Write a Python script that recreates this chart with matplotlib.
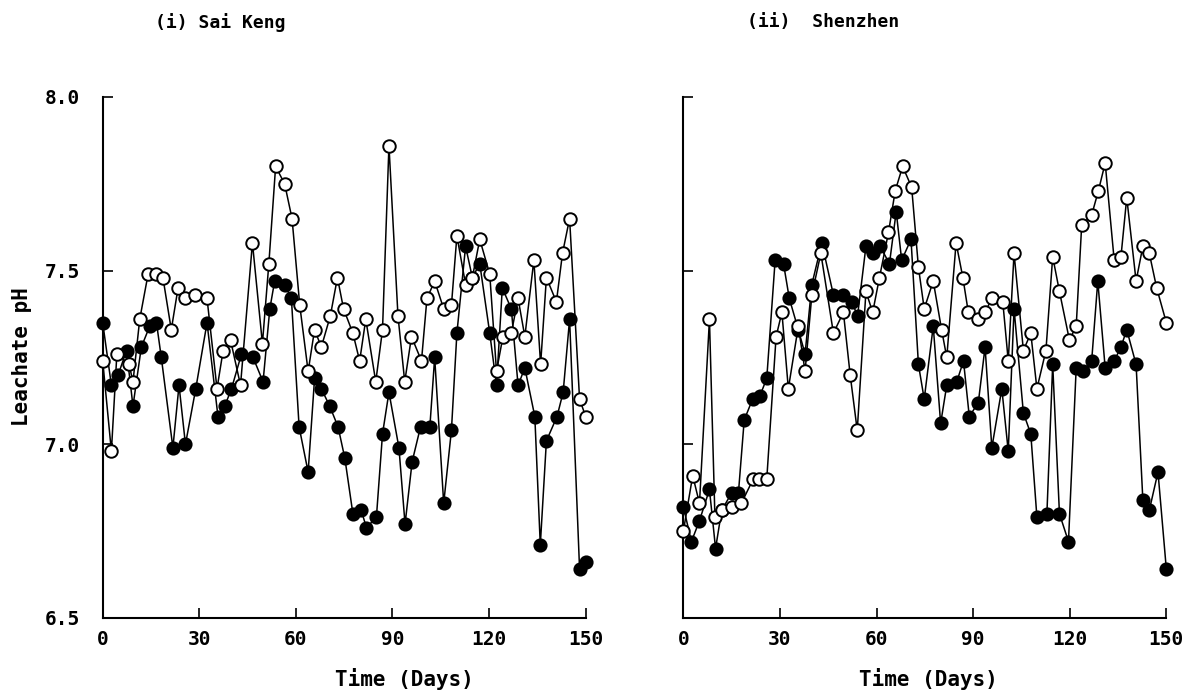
import matplotlib
matplotlib.use('Agg')
import matplotlib.pyplot as plt

# (i) Sai Keng
sk_days_filled = [0, 2.7, 4.8, 7.4, 9.4, 12.0, 14.6, 16.7, 18.2, 21.8, 23.7, 25.7, 28.9, 32.4, 35.8,
                  37.9, 40.0, 43.1, 46.7, 49.8, 51.9, 53.4, 56.5, 58.6, 61.0, 63.8, 65.8, 67.9, 70.5, 73.1,
                  75.2, 77.7, 80.3, 81.9, 85.0, 86.9, 88.9, 92.0, 93.9, 96.1, 98.7, 101.6, 103.1, 105.9, 108.3,
                  110.0, 112.7, 114.8, 117.1, 120.2, 122.3, 124.1, 126.9, 129.0, 131.1, 134.2, 135.9, 137.8,
                  141.1, 143.0, 145.0, 148.1, 150.0]
sk_ph_filled = [7.35, 7.17, 7.20, 7.27, 7.11, 7.28, 7.34, 7.35, 7.25, 6.99, 7.17, 7.00, 7.16, 7.35, 7.08,
                7.11, 7.16, 7.26, 7.25, 7.18, 7.39, 7.47, 7.46, 7.42, 7.05, 6.92, 7.19, 7.16, 7.11, 7.05,
                6.96, 6.80, 6.81, 6.76, 6.79, 7.03, 7.15, 6.99, 6.77, 6.95, 7.05, 7.05, 7.25, 6.83, 7.04,
                7.32, 7.57, 7.48, 7.52, 7.32, 7.17, 7.45, 7.39, 7.17, 7.22, 7.08, 6.71, 7.01,
                7.08, 7.15, 7.36, 6.64, 6.66]
sk_days_open = [0, 2.7, 4.4, 8.2, 9.4, 11.5, 14.1, 16.5, 18.7, 21.3, 23.4, 25.5, 28.6, 32.4, 35.5,
                37.4, 39.7, 42.8, 46.5, 49.6, 51.6, 53.7, 56.5, 58.8, 61.2, 63.8, 65.8, 67.9, 70.7, 72.9,
                74.8, 77.7, 79.8, 81.7, 84.8, 86.9, 88.9, 91.7, 93.8, 95.9, 99.0, 100.7, 103.1, 105.9, 108.3,
                110.0, 112.7, 114.8, 117.1, 120.2, 122.3, 124.3, 126.9, 129.0, 131.1, 133.9, 136.0, 137.8,
                140.9, 142.8, 145.0, 148.1, 150.0]
sk_ph_open = [7.24, 6.98, 7.26, 7.23, 7.18, 7.36, 7.49, 7.49, 7.48, 7.33, 7.45, 7.42, 7.43, 7.42, 7.16,
              7.27, 7.30, 7.17, 7.58, 7.29, 7.52, 7.80, 7.75, 7.65, 7.40, 7.21, 7.33, 7.28, 7.37, 7.48,
              7.39, 7.32, 7.24, 7.36, 7.18, 7.33, 7.86, 7.37, 7.18, 7.31, 7.24, 7.42, 7.47, 7.39, 7.40,
              7.60, 7.46, 7.48, 7.59, 7.49, 7.21, 7.31, 7.32, 7.42, 7.31, 7.53, 7.23, 7.48,
              7.41, 7.55, 7.65, 7.13, 7.08]

# (ii) Shenzhen
sz_days_filled = [0, 2.5, 5.0, 8.1, 10.0, 11.9, 15.0, 17.1, 18.9, 21.5, 23.8, 25.9, 28.5, 31.1, 32.9,
                  35.7, 37.8, 39.9, 43.0, 46.6, 49.7, 52.3, 54.1, 56.7, 58.8, 61.1, 64.0, 66.1, 67.8, 70.7,
                  73.0, 74.8, 77.6, 79.9, 81.8, 84.9, 87.0, 88.8, 91.6, 93.7, 95.8, 98.9, 100.9, 102.7, 105.6,
                  107.9, 109.8, 112.9, 114.7, 116.8, 119.6, 122.0, 124.2, 126.8, 128.7, 131.0, 133.8, 135.9,
                  137.7, 140.6, 142.7, 144.7, 147.4, 150.0]
sz_ph_filled = [6.82, 6.72, 6.78, 6.87, 6.70, 6.81, 6.86, 6.86, 7.07, 7.13, 7.14, 7.19, 7.53, 7.52, 7.42,
                7.33, 7.26, 7.46, 7.58, 7.43, 7.43, 7.41, 7.37, 7.57, 7.55, 7.57, 7.52, 7.67, 7.53, 7.59,
                7.23, 7.13, 7.34, 7.06, 7.17, 7.18, 7.24, 7.08, 7.12, 7.28, 6.99, 7.16, 6.98, 7.39, 7.09,
                7.03, 6.79, 6.80, 7.23, 6.80, 6.72, 7.22, 7.21, 7.24, 7.47, 7.22, 7.24, 7.28,
                7.33, 7.23, 6.84, 6.81, 6.92, 6.64]
sz_days_open = [0, 2.9, 5.0, 8.1, 9.8, 12.0, 15.0, 18.0, 21.7, 23.6, 25.9, 28.8, 30.6, 32.6, 35.7,
                37.8, 39.9, 42.7, 46.6, 49.7, 51.8, 54.0, 56.7, 58.8, 60.9, 63.7, 65.8, 68.1, 70.9, 73.0,
                74.8, 77.6, 80.2, 81.8, 84.7, 86.8, 88.5, 91.6, 93.7, 95.8, 99.2, 100.9, 102.7, 105.6, 107.9,
                109.8, 112.6, 114.7, 116.8, 119.9, 122.0, 123.7, 126.8, 128.9, 131.0, 133.8, 135.9, 137.7,
                140.6, 142.7, 144.7, 147.0, 150.0]
sz_ph_open = [6.75, 6.91, 6.83, 7.36, 6.79, 6.81, 6.82, 6.83, 6.90, 6.90, 6.90, 7.31, 7.38, 7.16, 7.34,
              7.21, 7.43, 7.55, 7.32, 7.38, 7.20, 7.04, 7.44, 7.38, 7.48, 7.61, 7.73, 7.80, 7.74, 7.51,
              7.39, 7.47, 7.33, 7.25, 7.58, 7.48, 7.38, 7.36, 7.38, 7.42, 7.41, 7.24, 7.55, 7.27, 7.32,
              7.16, 7.27, 7.54, 7.44, 7.30, 7.34, 7.63, 7.66, 7.73, 7.81, 7.53, 7.54, 7.71,
              7.47, 7.57, 7.55, 7.45, 7.35]

x_ticks = [0, 30, 60, 90, 120, 150]
y_ticks = [6.5, 7.0, 7.5, 8.0]

plt.rcParams['font.family'] = 'DejaVu Sans Mono'
plt.rcParams['font.weight'] = 'bold'

fig = plt.figure(figsize=(11.97, 6.99), dpi=100)
ax1 = fig.add_axes([0.0858, 0.1159, 0.4035, 0.7454])
ax2 = fig.add_axes([0.5709, 0.1159, 0.4035, 0.7454])


def draw(ax, dfill, pfill, dopen, popen):
    ax.plot(dfill, pfill, color='black', lw=1.1, marker='o', ms=9,
            mfc='black', mec='black', mew=1.2, clip_on=False, zorder=3)
    ax.plot(dopen, popen, color='black', lw=1.1, marker='o', ms=9,
            mfc='white', mec='black', mew=1.4, clip_on=False, zorder=4)
    ax.set_xlim(0, 150)
    ax.set_ylim(6.5, 8.0)
    ax.set_xticks(x_ticks)
    ax.set_yticks(y_ticks)
    ax.spines['top'].set_visible(False)
    ax.spines['right'].set_visible(False)
    ax.spines['left'].set_linewidth(1.5)
    ax.spines['bottom'].set_linewidth(1.5)
    ax.tick_params(direction='in', length=7, width=1.2, labelsize=14)
    ax.tick_params(axis='x', pad=9)
    ax.tick_params(axis='y', pad=16)


draw(ax1, sk_days_filled, sk_ph_filled, sk_days_open, sk_ph_open)
draw(ax2, sz_days_filled, sz_ph_filled, sz_days_open, sz_ph_open)
ax1.set_yticklabels(['6.5', '7.0', '7.5', '8.0'])
ax2.set_yticklabels([])

fig.text(0.184, 0.968, '(i) Sai Keng', fontsize=13, ha='center', va='center')
fig.text(0.688, 0.968, '(ii)  Shenzhen', fontsize=13, ha='center', va='center')
fig.text(0.338, 0.028, 'Time (Days)', fontsize=15, ha='center', va='center')
fig.text(0.776, 0.028, 'Time (Days)', fontsize=15, ha='center', va='center')
fig.text(0.018, 0.49, 'Leachate pH', fontsize=15, ha='center', va='center', rotation=90)

fig.savefig('out.png', dpi=100)
